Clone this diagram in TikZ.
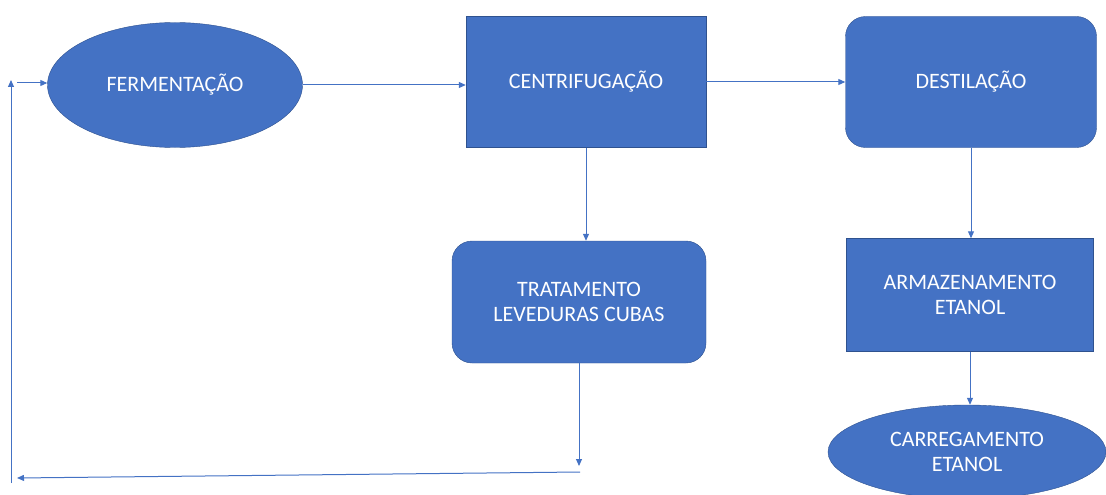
\documentclass[tikz,border=0pt]{standalone}
\usepackage{fontspec}
\setmainfont{Carlito}
\usetikzlibrary{shapes.geometric}
\usetikzlibrary{positioning}
\usetikzlibrary{arrows.meta}
\definecolor{boxblue}{HTML}{4472C4}
\definecolor{edgeblue}{HTML}{2F528F}

\begin{document}
\begin{tikzpicture}[
            x = 1pt, y = -1pt, % pixel units, y downwards
            > = {Triangle[length=7pt, width=6pt]}, % arrow head style
            line width = 1pt, % line style
            every node/.style = {font=\fontsize{22}{25}\selectfont, align=center}
        ]

        \tikzstyle{step box}=[
            draw = edgeblue,
            thin,
            fill = boxblue,
            text = white,
            inner sep = 0pt
        ]
        \tikzstyle{flow}=[draw = boxblue, ->]

        \useasboundingbox (0,0) rectangle (1106,495);

	% first row
        \node[step box, ellipse, minimum width=255pt, minimum height=125pt] (ferm) at (175,85) {FERMENTAÇÃO};
        \node[step box, minimum width=240pt, minimum height=131pt] (centri) at (586,82) {CENTRIFUGAÇÃO};
        \node[step box, rounded corners=20pt, minimum width=251pt, minimum height=131pt] (dest) at (971,82) {DESTILAÇÃO};

        % second and third row
        \node[step box, rounded corners=20pt, minimum width=254pt, minimum height=122pt] (trat) at (579,302) {TRATAMENTO\\LEVEDURAS CUBAS};
        \node[step box, minimum width=247pt, minimum height=113pt] (armaz) at (970,295) {ARMAZENAMENTO\\ETANOL};
        \node[step box, ellipse, minimum width=278pt, minimum height=94pt] (carreg) at (967,452) {CARREGAMENTO\\ETANOL};

        \draw[flow] (ferm.east) -- (centri.west |- ferm.east);
        \draw[flow] (centri.east) -- (dest.west);
        \draw[flow] (centri.south) -- (centri.south |- trat.north);
        \draw[flow] (dest.south) -- (dest.south |- armaz.north);
        \draw[flow] (armaz.south) -- (armaz.south |- carreg.north);

        % return of the yeast
        \coordinate (drop) at (579,466);
        \coordinate (backR) at (580,472);
        \coordinate (backL) at (17,478);
        \coordinate (upB) at (11,483);
        \coordinate (upT) at (11,80);
        \coordinate (inL) at (17,83);

        \draw[flow] (trat.south) -- (drop);
        \draw[flow] (backR) -- (backL);
        \draw[flow] (upB) -- (upT);
        \draw[flow] (inL) -- (inL -| ferm.west);

  \end{tikzpicture}
\end{document}
